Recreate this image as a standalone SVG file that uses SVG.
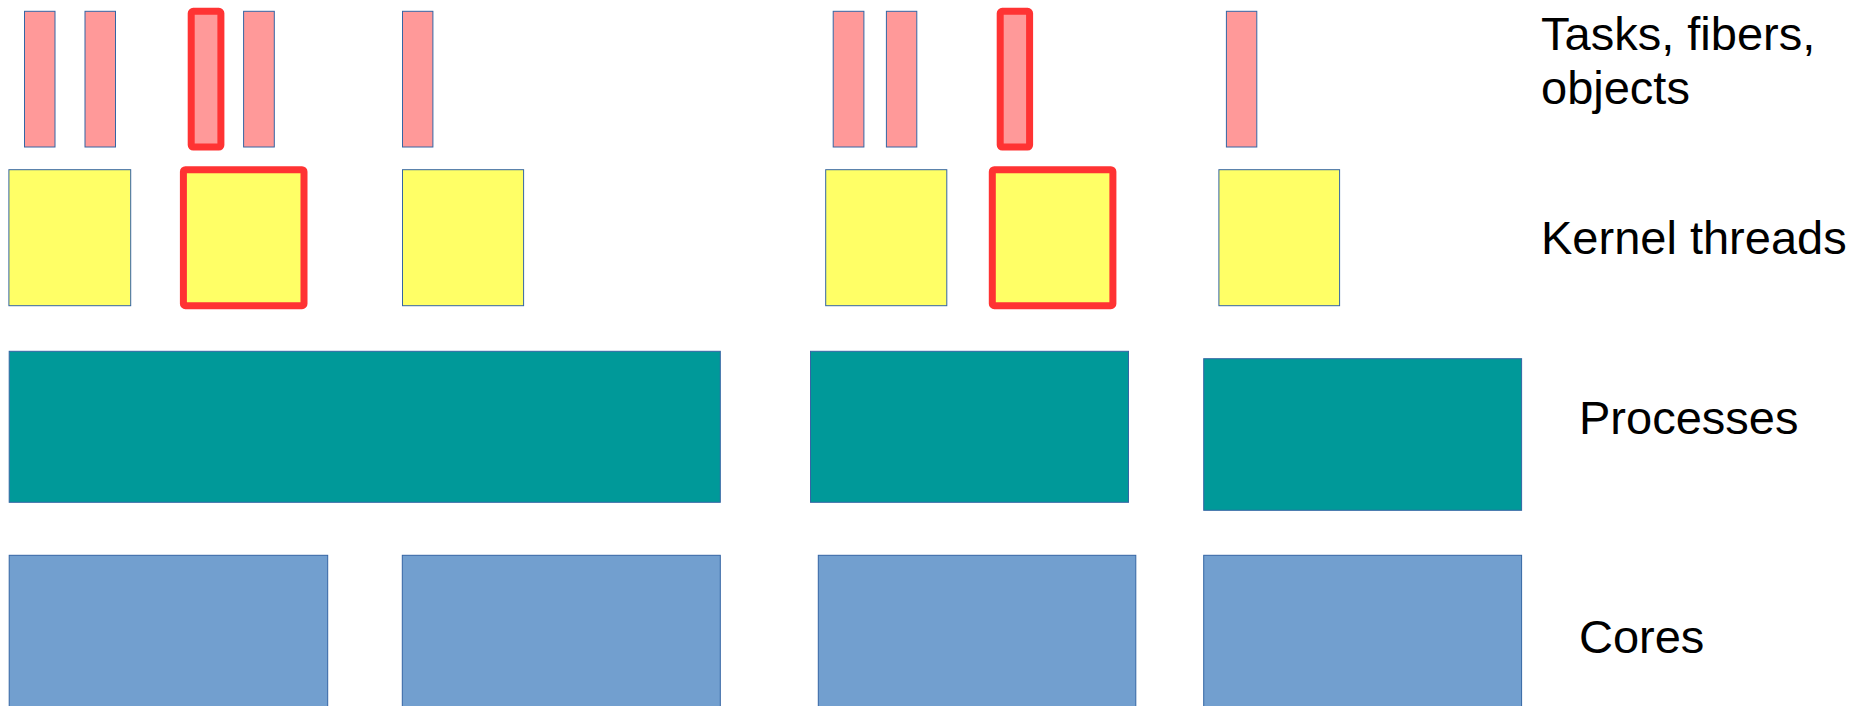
<svg xmlns="http://www.w3.org/2000/svg" width="1853" height="706" viewBox="0 0 1853 706">
<style>
.task{fill:#ff9999;stroke:#3465a4;stroke-width:1}
.kt{fill:#ffff66;stroke:#3465a4;stroke-width:1}
.proc{fill:#009999;stroke:#3465a4;stroke-width:1}
.core{fill:#729fcf;stroke:#3465a4;stroke-width:1}
.hl{stroke:#ff3333;stroke-width:7;stroke-linejoin:round}
.lbl{font-family:"Liberation Sans",Arial,sans-serif;font-size:47px;fill:#000}
</style>
<rect width="1853" height="706" fill="#ffffff"/>
<g id="tasks">
<rect id="task1" class="task" x="24.5" y="11.3" width="30.5" height="135.7"/>
<rect id="task2" class="task" x="85" y="11.3" width="30.5" height="135.7"/>
<rect id="task3" class="task hl" x="191.2" y="11.3" width="29.7" height="135.7" rx="2"/>
<rect id="task4" class="task" x="243.6" y="11.3" width="30.7" height="135.7"/>
<rect id="task5" class="task" x="402.5" y="11.3" width="30.4" height="135.7"/>
<rect id="task6" class="task" x="833.2" y="11.3" width="30.7" height="135.7"/>
<rect id="task7" class="task" x="886.4" y="11.3" width="30.4" height="135.7"/>
<rect id="task8" class="task hl" x="1000.2" y="11.3" width="29.4" height="135.7" rx="2"/>
<rect id="task9" class="task" x="1226.4" y="11.3" width="30.4" height="135.7"/>
</g>
<g id="kernel-threads">
<rect id="kt1" class="kt" x="8.9" y="169.7" width="121.8" height="136"/>
<rect id="kt2" class="kt hl" x="183.4" y="169.7" width="120.6" height="136" rx="2"/>
<rect id="kt3" class="kt" x="402.5" y="169.7" width="121.1" height="136"/>
<rect id="kt4" class="kt" x="825.7" y="169.7" width="121.1" height="136"/>
<rect id="kt5" class="kt hl" x="992.3" y="169.7" width="120.6" height="136" rx="2"/>
<rect id="kt6" class="kt" x="1218.9" y="169.7" width="120.7" height="136"/>
</g>
<g id="processes">
<rect id="proc1" class="proc" x="9.2" y="351.3" width="711.1" height="151"/>
<rect id="proc2" class="proc" x="810.5" y="351.3" width="318" height="151"/>
<rect id="proc3" class="proc" x="1203.7" y="358.7" width="317.9" height="151.6"/>
</g>
<g id="cores">
<rect id="core1" class="core" x="9.2" y="555.3" width="318.5" height="170"/>
<rect id="core2" class="core" x="402.3" y="555.3" width="318" height="170"/>
<rect id="core3" class="core" x="818.3" y="555.3" width="317.5" height="170"/>
<rect id="core4" class="core" x="1203.7" y="555.3" width="317.9" height="170"/>
</g>
<g id="labels">
<text class="lbl" x="1541" y="50">Tasks, fibers,</text>
<text class="lbl" x="1541" y="103.5">objects</text>
<text class="lbl" x="1541" y="254">Kernel threads</text>
<text class="lbl" x="1579" y="434.3">Processes</text>
<text class="lbl" x="1579" y="653.3">Cores</text>
</g>
<g id="connectors"/>
</svg>
